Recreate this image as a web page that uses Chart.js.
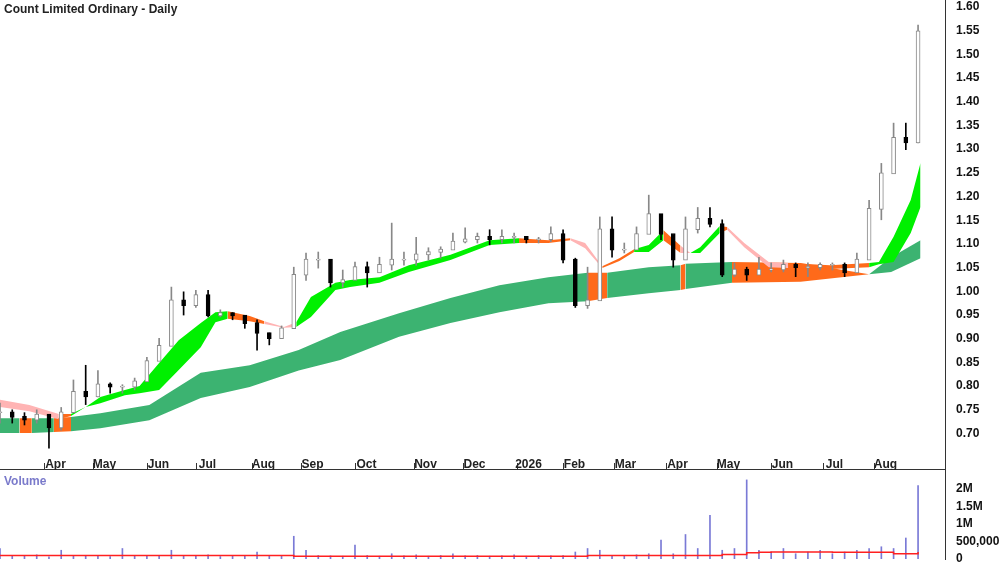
<!DOCTYPE html>
<html lang="en">
<head>
<meta charset="UTF-8">
<title>Count Limited Ordinary - Daily</title>
<script src="https://cdn.jsdelivr.net/npm/chart.js"></script>
<style>
    body { margin: 0; background: #fff; font-family: Arial, sans-serif; overflow: hidden; }
    .wrap { position: relative; width: 1000px; height: 562px; }
    #priceBox { position: absolute; left: 0; top: 0; width: 1000px; height: 470px; }
    #volBox { position: absolute; left: 0; top: 470px; width: 1000px; height: 92px; }
    .title { position: absolute; left: 4px; top: 2px; font: bold 12px Arial; color: #222; z-index: 2; }
    .vlabel { position: absolute; left: 4px; top: 474px; font: bold 12px Arial; color: #7a7acb; z-index: 2; }
</style>
</head>
<body>
<div class="wrap">
    <div class="title">Count Limited Ordinary - Daily</div>
    <div class="vlabel">Volume</div>
    <div id="priceBox"><canvas id="priceChart"></canvas></div>
    <div id="volBox"><canvas id="volChart"></canvas></div>
</div>
<script>
// x positions are trading days from the start of the chart
const monthLabels = ["Apr","May","Jun","Jul","Aug","Sep","Oct","Nov","Dec","2026","Feb","Mar","Apr","May","Jun","Jul","Aug"];
const monthDays   = [18, 38, 60, 80, 103, 123, 145, 169, 189, 211, 230, 251, 272, 293, 315, 336, 357];

// weekly bars (one every 5 trading days)
const barDays = [0,5,10,15,20,25,30,35,40,45,50,55,60,65,70,75,80,85,90,95,100,105,110,115,120,125,130,135,140,145,150,155,160,165,170,175,180,185,190,195,200,205,210,215,220,225,230,235,240,245,250,255,260,265,270,275,280,285,290,295,300,305,310,315,320,325,330,335,340,345,350,355,360,365,370,375];
const highs  = [0.764,0.750,0.744,0.750,0.739,0.755,0.813,0.844,0.833,0.807,0.803,0.817,0.861,0.901,1.009,0.999,1.002,1.002,0.961,0.955,0.946,0.940,0.912,0.927,1.051,1.081,1.083,1.051,1.045,1.062,1.062,1.072,1.144,1.083,1.114,1.092,1.094,1.123,1.134,1.123,1.130,1.130,1.123,1.114,1.114,1.136,1.130,1.070,1.051,1.157,1.157,1.102,1.136,1.203,1.157,1.102,1.157,1.177,1.177,1.151,1.060,1.051,1.072,1.060,1.066,1.060,1.060,1.060,1.060,1.060,1.081,1.192,1.270,1.355,1.355,1.562];
const lows   = [0.722,0.722,0.718,0.722,0.669,0.707,0.755,0.761,0.777,0.785,0.785,0.792,0.817,0.855,0.912,0.950,0.966,0.946,0.946,0.940,0.922,0.876,0.887,0.916,0.946,1.023,1.049,1.009,1.009,1.034,1.009,1.045,1.045,1.055,1.055,1.066,1.070,1.094,1.102,1.102,1.098,1.102,1.102,1.102,1.102,1.105,1.060,0.966,0.964,1.002,1.072,1.081,1.094,1.151,1.109,1.051,1.092,1.123,1.136,1.031,1.031,1.023,1.038,1.041,1.041,1.031,1.031,1.045,1.045,1.031,1.051,1.109,1.151,1.270,1.299,1.313];
const closes = [0.744,0.734,0.728,0.739,0.712,0.744,0.787,0.777,0.803,0.798,0.798,0.809,0.852,0.884,0.980,0.970,0.991,0.948,0.953,0.948,0.932,0.911,0.900,0.921,1.034,1.066,1.066,1.018,1.023,1.050,1.039,1.055,1.066,1.066,1.077,1.082,1.087,1.104,1.109,1.114,1.109,1.114,1.114,1.109,1.109,1.120,1.066,0.970,0.980,1.130,1.087,1.087,1.120,1.162,1.120,1.066,1.130,1.152,1.141,1.034,1.045,1.034,1.045,1.045,1.055,1.050,1.050,1.055,1.055,1.039,1.066,1.173,1.248,1.323,1.313,1.548];

// long-term band (dark green; orange where price sits inside it)
const longDays  = [0,8,13,22,29,41,61,82,102,122,139,163,184,204,224,240,248,265,278,280,299,327,355,364,376];
const longUpper = [0.732,0.732,0.732,0.732,0.735,0.743,0.760,0.828,0.844,0.876,0.914,0.954,0.986,1.013,1.030,1.039,1.039,1.051,1.055,1.058,1.062,1.060,1.036,1.072,1.108];
const longLower = [0.701,0.701,0.701,0.703,0.705,0.711,0.728,0.775,0.798,0.833,0.855,0.904,0.933,0.956,0.975,0.979,0.986,0.996,1.003,1.005,1.018,1.020,1.036,1.041,1.070];
const longColors = ["g","o","g","o","g","g","g","g","g","g","g","g","g","g","g","o","g","g","o","g","o","o","g","g","g"];

// short-term band (green rising, pink falling, orange mixed)
const shortDays  = [0,12,24,29,35,41,51,57,65,73,82,88,93,102,108,116,121,127,137,143,155,167,184,200,212,224,233,239,246,253,259,265,271,278,282,286,294,297,304,314,322,339,355,359,365,372,376];
const shortUpper = [0.771,0.760,0.741,0.741,0.756,0.777,0.792,0.800,0.849,0.897,0.933,0.956,0.958,0.948,0.937,0.925,0.935,0.988,1.018,1.024,1.030,1.055,1.077,1.108,1.112,1.108,1.112,1.102,1.053,1.070,1.089,1.098,1.129,1.096,1.081,1.093,1.138,1.136,1.102,1.062,1.060,1.055,1.060,1.062,1.115,1.193,1.271];
const shortLower = [0.756,0.747,0.730,0.737,0.756,0.764,0.781,0.785,0.792,0.834,0.882,0.935,0.942,0.937,0.931,0.923,0.925,0.946,1.003,1.009,1.018,1.041,1.066,1.098,1.102,1.102,1.108,1.091,1.049,1.064,1.083,1.083,1.108,1.081,1.081,1.081,1.123,1.130,1.093,1.051,1.049,1.047,1.051,1.057,1.062,1.123,1.178];
const shortColors = ["p","p","o","g","g","g","g","g","g","g","g","g","o","o","p","p","g","g","g","g","g","g","g","g","o","o","p","p","o","o","g","g","o","p","g","g","o","p","p","p","o","o","g","g","g","g","g"];

// volume (thousands of shares) and its average
const volumes = [300,100,80,120,60,250,100,80,90,70,300,80,90,100,250,80,90,120,70,90,100,200,80,90,650,250,100,90,80,400,100,80,150,90,120,80,100,150,90,100,80,90,120,80,100,90,100,200,300,250,100,90,120,150,540,150,700,300,1250,250,300,2260,250,200,300,150,200,250,150,200,250,300,350,300,600,2100];
const volAvg  = [100,100,100,100,100,100,100,100,100,100,100,100,100,100,100,100,100,100,100,100,100,100,100,100,80,80,80,80,80,80,80,80,80,80,80,80,80,80,80,80,80,80,80,80,80,80,80,80,100,100,100,100,100,100,100,100,100,100,100,130,130,180,190,200,200,200,200,200,190,190,190,190,190,150,150,200];

const colorMap = { g: "#00f000", o: "#ff6a1a", p: "#ffb4b4" };
const longMap = { g: "#3cb371", o: "#ff6a1a" };
const X_MAX = 386;

const pts = (xs, ys) => xs.map((x, i) => ({ x: x, y: ys[i] }));
const opens = closes.map((c, i) => i === 0 ? c : closes[i - 1]);

const monthPlugin = {
    id: "months",
    afterDraw(chart) {
        const ctx = chart.ctx, xs = chart.scales.x;
        ctx.save();
        ctx.strokeStyle = "#333";
        ctx.lineWidth = 1;
        ctx.beginPath();
        ctx.moveTo(0, 469.5);
        ctx.lineTo(chart.chartArea.right, 469.5);
        ctx.stroke();
        ctx.font = "bold 12px Arial";
        ctx.fillStyle = "#222";
        ctx.textAlign = "center";
        monthDays.forEach((d, i) => {
            const px = Math.round(xs.getPixelForValue(d)) + 0.5;
            ctx.beginPath();
            ctx.moveTo(px, 463);
            ctx.lineTo(px, 470);
            ctx.stroke();
            ctx.fillText(monthLabels[i], px + 11, 468);
        });
        ctx.restore();
    }
};

// right-hand axis, 55px wide, no label padding so the plot fills the panel
const rightAxis = (extra) => Object.assign({
    position: "right",
    grid: { display: false, drawOnChartArea: false, tickLength: 5, tickColor: "#333" },
    border: { display: true, color: "#333" },
    afterFit: s => { s.width = 55; s.paddingTop = 0; s.paddingBottom = 0; }
}, extra);

new Chart(document.getElementById("priceChart"), {
    type: "bar",
    data: {
        datasets: [
            { type: "line", data: pts(longDays, longLower), borderWidth: 0, pointRadius: 0, fill: false, order: 3 },
            { type: "line", data: pts(longDays, longUpper), borderWidth: 0, pointRadius: 0, fill: "-1", order: 3,
              backgroundColor: "#3cb371",
              segment: { backgroundColor: c => longMap[longColors[c.p0DataIndex]] } },
            { type: "line", data: pts(shortDays, shortLower), borderWidth: 0, pointRadius: 0, fill: false, order: 2 },
            { type: "line", data: pts(shortDays, shortUpper), borderWidth: 0, pointRadius: 0, fill: "-1", order: 2,
              backgroundColor: "#00f000",
              segment: { backgroundColor: c => colorMap[shortColors[c.p0DataIndex]] } },
            { data: barDays.map((d, i) => ({ x: d, y: [lows[i], highs[i]] })), barThickness: 1, grouped: false,
              backgroundColor: closes.map((c, i) => c >= opens[i] ? "#888" : "#000"), order: 1 },
            { data: barDays.map((d, i) => ({ x: d, y: [Math.min(opens[i], closes[i]), Math.max(opens[i], closes[i]) + 0.002] })),
              barThickness: 4, grouped: false, borderSkipped: false, borderWidth: 1,
              backgroundColor: closes.map((c, i) => c >= opens[i] ? "#fff" : "#000"),
              borderColor: closes.map((c, i) => c >= opens[i] ? "#888" : "#000"), order: 0 }
        ]
    },
    options: {
        responsive: true, maintainAspectRatio: false, animation: false,
        layout: { padding: 0 },
        plugins: { legend: { display: false }, tooltip: { enabled: false } },
        scales: {
            x: { type: "linear", min: 0, max: X_MAX, offset: false, display: false },
            y: rightAxis({
                min: 0.623, max: 1.6148,
                afterBuildTicks: s => { s.ticks = []; for (let v = 70; v <= 160; v += 5) s.ticks.push({ value: v / 100 }); },
                ticks: { color: "#111", font: { family: "Arial", size: 12, weight: "bold" }, padding: 6, callback: v => v.toFixed(2) }
            })
        }
    },
    plugins: [monthPlugin]
});

new Chart(document.getElementById("volChart"), {
    type: "bar",
    data: {
        datasets: [
            { type: "line", data: pts(barDays, volAvg.map(v => v * 1000)), borderColor: "#ff2020", borderWidth: 1.5, pointRadius: 0, stepped: true, order: 0 },
            { data: barDays.map((d, i) => ({ x: d, y: volumes[i] * 1000 })), barThickness: 1, backgroundColor: "#7a7ad6", order: 1 }
        ]
    },
    options: {
        responsive: true, maintainAspectRatio: false, animation: false,
        layout: { padding: { top: 0, bottom: 3 } },
        plugins: { legend: { display: false }, tooltip: { enabled: false } },
        scales: {
            x: { type: "linear", min: 0, max: X_MAX, offset: false, display: false },
            y: rightAxis({
                min: 0, max: 2543000,
                afterBuildTicks: s => { s.ticks = [0, 500000, 1000000, 1500000, 2000000].map(v => ({ value: v })); },
                ticks: { color: "#111", font: { family: "Arial", size: 12, weight: "bold" }, padding: 6,
                    callback: v => v === 0 ? "0" : v === 500000 ? "500,000" : (v / 1e6) + "M" }
            })
        }
    }
});
</script>
</body>
</html>
